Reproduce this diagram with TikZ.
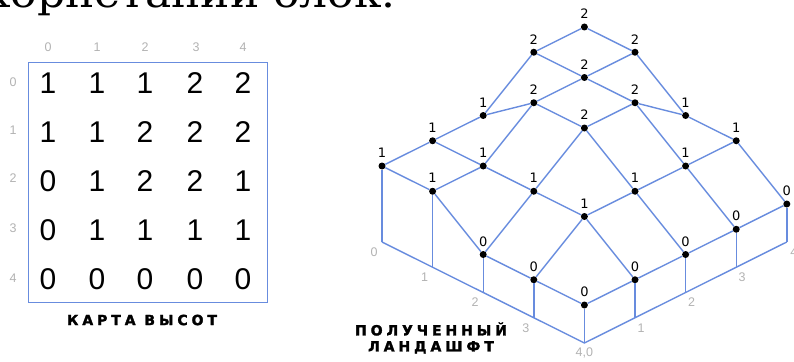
\documentclass[tikz,border=0pt]{standalone}
\usepackage{fontspec}
\usetikzlibrary{calc}
\setmainfont{Liberation Sans}
\newfontfamily\serifbig[FakeStretch=1.1]{DejaVu Serif}
\newfontfamily\heavy[LetterSpace=28,FakeBold=2]{DejaVu Sans}
\newfontfamily\labfont{DejaVu Sans}
\definecolor{edgeblue}{RGB}{104,140,222}
\definecolor{axisgrey}{RGB}{178,178,178}
\tikzset{
  edge/.style={draw=edgeblue, line width=1.4pt},
  dot/.style={circle, fill=black, inner sep=0pt, minimum size=7pt},
  lab/.style={font=\labfont\fontsize{13}{13}\selectfont, inner sep=0pt, text=black},
  axis/.style={font=\fontsize{12.5}{12.5}\selectfont, inner sep=0pt, text=axisgrey},
  big/.style={font=\fontsize{30}{30}\selectfont, inner sep=0pt},
  title/.style={font=\heavy\bfseries\fontsize{14}{14}\selectfont, inner sep=0pt, align=center},
}
\begin{document}
\begin{tikzpicture}[x=1pt,y=-1pt]
\useasboundingbox (0,0) rectangle (794,361);
\clip (0,0) rectangle (794,361);
% clipped running text at the top
\node[font=\serifbig\fontsize{40}{40}\selectfont, anchor=base east, inner sep=0pt] (toptext) at (396,8) {корпетании блок.};

% ---------- height map ----------
\node[draw=edgeblue, line width=1.4pt, minimum width=239pt, minimum height=240pt, inner sep=0pt, anchor=north west] (box) at (28,62) {};
\foreach \c/\x in {0/48,1/97,2/145,3/196,4/243}{
  \node[axis] (col\c) at (\x,47) {\c};
}
\foreach \r/\y in {0/82,1/130,2/178,3/228,4/278}{
  \node[axis] (row\r) at (13,\y) {\r};
}
\foreach \r/\y/\a/\b/\c/\d/\e in {0/83/1/1/1/2/2, 1/132/1/1/2/2/2, 2/181/0/1/2/2/1, 3/230/0/1/1/1/1, 4/279/0/0/0/0/0}{
  \node[big] (m\r0) at (48,\y) {\a};
  \node[big] (m\r1) at (97,\y) {\b};
  \node[big] (m\r2) at (145,\y) {\c};
  \node[big] (m\r3) at (195,\y) {\d};
  \node[big] (m\r4) at (243,\y) {\e};
}
\node[title] (maptitle) at (142,320) {КАРТА ВЫСОТ};

% ---------- landscape ----------
\foreach \i/\j/\h in {0/0/1,0/1/1,0/2/1,0/3/2,0/4/2,
                      1/0/1,1/1/1,1/2/2,1/3/2,1/4/2,
                      2/0/0,2/1/1,2/2/2,2/3/2,2/4/1,
                      3/0/0,3/1/1,3/2/1,3/3/1,3/4/1,
                      4/0/0,4/1/0,4/2/0,4/3/0,4/4/0}{
  \pgfmathsetmacro\px{382+50.6*(\i+\j)}
  \pgfmathsetmacro\py{242+25.25*(\i-\j)-38*(\h+1)}
  \pgfmathsetmacro\by{242+25.25*(\i-\j)}
  \node[dot] (p\i\j) at (\px,\py) {};
  \node[lab] (t\i\j) at (\px,\py-13) {\h};
  \coordinate (b\i\j) at (\px,\by);
}
% surface edges
\foreach \i in {0,...,4}{
  \foreach \j [evaluate=\j as \k using int(\j+1)] in {0,...,3}{
    \draw[edge] (p\i\j) -- (p\i\k);
    \draw[edge] (p\j\i) -- (p\k\i);
  }
}
% vertical walls
\foreach \i in {0,...,4}{ \draw[edge] (p\i0) -- (b\i0); }
\foreach \j in {1,...,4}{ \draw[edge] (p4\j) -- (b4\j); }
\draw[edge] (b00) -- (b40) -- (b44);
% axis labels
\node[axis] (la0) at ($(b00)+(-8,10)$) {0};
\node[axis] (la1) at ($(b10)+(-8,10)$) {1};
\node[axis] (la2) at ($(b20)+(-8,10)$) {2};
\node[axis] (la3) at ($(b30)+(-8,10)$) {3};
\node[axis] (la4) at ($(b40)+(0,10)$) {4,0};
\node[axis] (ra1) at ($(b41)+(6,10)$) {1};
\node[axis] (ra2) at ($(b42)+(6,10)$) {2};
\node[axis] (ra3) at ($(b43)+(6,10)$) {3};
\node[axis] (ra4) at ($(b44)+(7,10)$) {4};
\node[title] (landtitle) at (431,338) {ПОЛУЧЕННЫЙ\\[2pt]ЛАНДАШФТ};
\end{tikzpicture}
\end{document}
